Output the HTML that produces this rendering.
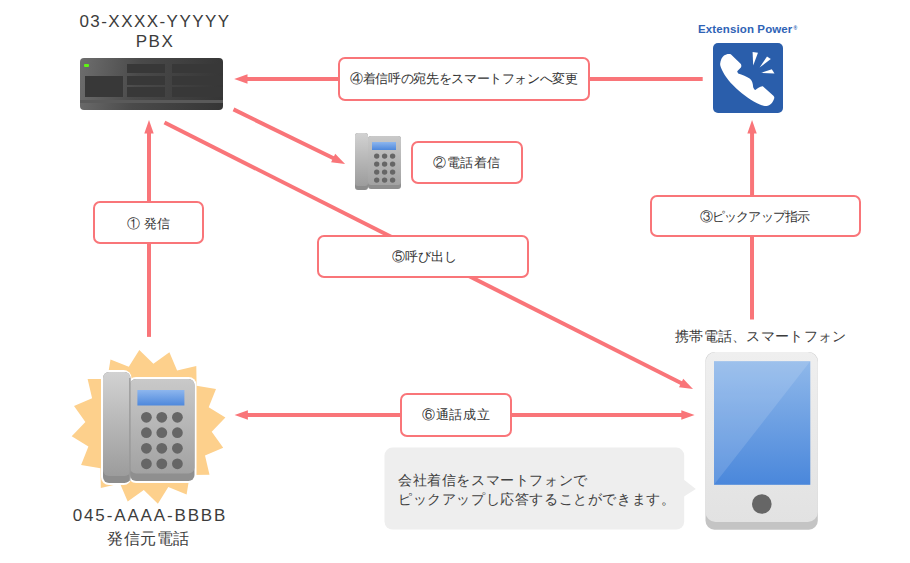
<!DOCTYPE html>
<html><head><meta charset="utf-8">
<style>
html,body{margin:0;padding:0;background:#fff;}
body{width:910px;height:563px;position:relative;overflow:hidden;font-family:"Liberation Sans",sans-serif;color:#333;}
.a{position:absolute;}
.box{position:absolute;box-sizing:border-box;border:2px solid #f97579;border-radius:7px;background:#fff;display:flex;align-items:center;justify-content:center;font-size:13px;color:#333;white-space:nowrap;padding-top:2px;}
.t{position:absolute;white-space:nowrap;line-height:20px;color:#333;-webkit-text-stroke:0.15px #333;}
body.cjk .t{-webkit-text-stroke:0;}
#t4{left:349px;top:69px;font-size:17.5px;letter-spacing:-0.44px;}
#t2{left:432px;top:153px;font-size:17.5px;letter-spacing:0.3px;}
#t1{left:125.5px;top:214px;font-size:17.5px;letter-spacing:0.2px;}
#t5{left:391px;top:246.5px;font-size:17.5px;letter-spacing:-0.83px;}
#t3{left:700px;top:206.5px;font-size:17.5px;letter-spacing:-1.1px;}
#t6{left:421px;top:405px;font-size:17.5px;letter-spacing:0.28px;}
#tm{left:674px;top:326px;font-size:18.5px;letter-spacing:0.51px;color:#3c3c3c;}
#tc{left:106px;top:529px;font-size:19px;letter-spacing:3.4px;color:#3c3c3c;-webkit-text-stroke:0.45px #3c3c3c;}
#tb{left:396.7px;top:471px;font-size:18px;letter-spacing:1.0px;line-height:18.5px;color:#404040;}
body.cjk #t4{left:350px;top:69px;font-size:13px;letter-spacing:-0.35px;}
body.cjk #t2{left:433px;top:153px;font-size:13px;letter-spacing:0.5px;}
body.cjk #t1{left:127px;top:214px;font-size:13px;letter-spacing:0;}
body.cjk #t5{left:391.5px;top:246.5px;font-size:13px;letter-spacing:0;}
body.cjk #t3{left:700px;top:206.5px;font-size:13px;letter-spacing:-0.9px;}
body.cjk #t6{left:422px;top:405px;font-size:13px;letter-spacing:0.7px;}
body.cjk #tm{left:675px;top:326px;font-size:14px;letter-spacing:0.3px;}
body.cjk #tc{left:107px;top:529px;font-size:16px;letter-spacing:0.5px;-webkit-text-stroke:0;}
body.cjk #tb{left:398px;top:471px;font-size:14px;letter-spacing:0.6px;line-height:19px;}
.lbl{position:absolute;text-align:center;white-space:nowrap;color:#3c3c3c;}
</style></head>
<body>
<svg class="a" style="left:0;top:0" width="910" height="563" viewBox="0 0 910 563">
  <defs>
    <linearGradient id="hs" x1="0" y1="0" x2="0" y2="1">
      <stop offset="0" stop-color="#d2d2d2"/><stop offset="1" stop-color="#9c9c9c"/>
    </linearGradient>
    <linearGradient id="bd" x1="0" y1="0" x2="0" y2="1">
      <stop offset="0" stop-color="#c9c9c9"/><stop offset="1" stop-color="#a2a2a2"/>
    </linearGradient>
    <linearGradient id="dp" x1="0" y1="0" x2="0" y2="1">
      <stop offset="0" stop-color="#8db6ee"/><stop offset="1" stop-color="#4e88dc"/>
    </linearGradient>
  </defs>
  <g stroke="#f97579" stroke-width="4" fill="#f97579">
    <line x1="149.00" y1="336.90" x2="149.00" y2="132.40"/>
    <polygon stroke="none" points="149.00,120.10 153.70,133.40 144.30,133.40"/>
    <line x1="702.70" y1="79.00" x2="246.50" y2="79.00"/>
    <polygon stroke="none" points="234.20,79.00 247.50,74.30 247.50,83.70"/>
    <line x1="752.00" y1="319.50" x2="752.05" y2="132.40"/>
    <polygon stroke="none" points="752.05,120.10 756.75,133.40 747.35,133.40"/>
    <line x1="233.50" y1="109.40" x2="334.05" y2="158.50"/>
    <polygon stroke="none" points="345.10,163.90 331.09,162.29 335.21,153.84"/>
    <line x1="164.50" y1="122.50" x2="682.02" y2="383.46"/>
    <polygon stroke="none" points="693.00,389.00 679.01,387.21 683.24,378.82"/>
    <line x1="512.00" y1="415.00" x2="682.30" y2="415.00"/>
    <polygon stroke="none" points="694.60,415.00 681.30,419.70 681.30,410.30"/>
    <line x1="400.00" y1="415.00" x2="246.90" y2="415.00"/>
    <polygon stroke="none" points="234.60,415.00 247.90,410.30 247.90,419.70"/>
  </g>
  <!-- sunburst -->
  <polygon fill="#fdd08c" points="225.4,417.6 211.7,431.7 223.2,447.8 205.0,455.5 209.5,474.7 189.8,475.0 186.6,494.4 168.3,487.1 157.9,503.8 143.8,490.0 127.7,501.5 120.0,483.4 100.8,487.9 100.5,468.2 81.1,465.0 88.4,446.6 71.7,436.2 85.4,422.1 74.0,406.1 92.1,398.3 87.6,379.1 107.3,378.9 110.5,359.5 128.8,366.8 139.3,350.0 153.4,363.8 169.4,352.3 177.1,370.5 196.3,366.0 196.6,385.7 216.0,388.9 208.7,407.2"/>
  <!-- big phone -->
  <g>
    <rect x="101" y="370" width="30.5" height="115" rx="8" fill="#fff"/>
    <rect x="128" y="377" width="68.5" height="106" rx="8" fill="#fff"/>
    <rect x="130" y="379" width="64.5" height="102" rx="6" fill="#8f8f8f"/>
    <rect x="130" y="379" width="64.5" height="94.5" rx="6" fill="url(#bd)"/>
    <rect x="103" y="372" width="27.5" height="111" rx="6" fill="#8d8d8d"/>
    <rect x="103" y="372" width="27.5" height="104" rx="6" fill="url(#hs)"/>
    <rect x="129.2" y="378" width="1.2" height="103" fill="#9a9a9a"/>
    <rect x="137.4" y="390" width="47" height="15.5" fill="url(#dp)"/>
    <g fill="#666">
      <circle cx="146.4" cy="417.3" r="5.4"/><circle cx="161.8" cy="417.3" r="5.4"/><circle cx="177.4" cy="417.3" r="5.4"/>
      <circle cx="146.4" cy="432.7" r="5.4"/><circle cx="161.8" cy="432.7" r="5.4"/><circle cx="177.4" cy="432.7" r="5.4"/>
      <circle cx="146.4" cy="448.3" r="5.4"/><circle cx="161.8" cy="448.3" r="5.4"/><circle cx="177.4" cy="448.3" r="5.4"/>
      <circle cx="146.4" cy="463.8" r="5.4"/><circle cx="161.8" cy="463.8" r="5.4"/><circle cx="177.4" cy="463.8" r="5.4"/>
    </g>
  </g>
  <!-- small phone -->
  <g>
    <rect x="368" y="136" width="33" height="53" rx="3" fill="#8e8e8e"/>
    <rect x="368" y="136" width="33" height="49" rx="3" fill="url(#bd)"/>
    <rect x="355" y="133" width="13" height="57" rx="3" fill="#8c8c8c"/>
    <rect x="355" y="133" width="13" height="53" rx="3" fill="url(#hs)"/>
    <rect x="372" y="142" width="24" height="8" fill="url(#dp)"/>
    <g fill="#666">
      <circle cx="376.7" cy="156.1" r="2.7"/><circle cx="384.6" cy="156.1" r="2.7"/><circle cx="392.6" cy="156.1" r="2.7"/>
      <circle cx="376.7" cy="164.1" r="2.7"/><circle cx="384.6" cy="164.1" r="2.7"/><circle cx="392.6" cy="164.1" r="2.7"/>
      <circle cx="376.7" cy="172.1" r="2.7"/><circle cx="384.6" cy="172.1" r="2.7"/><circle cx="392.6" cy="172.1" r="2.7"/>
      <circle cx="376.7" cy="180.1" r="2.7"/><circle cx="384.6" cy="180.1" r="2.7"/><circle cx="392.6" cy="180.1" r="2.7"/>
    </g>
  </g>
  <!-- Extension Power icon -->
  <g transform="translate(713,43)">
    <rect width="70" height="70" rx="5" fill="#2a5eab"/>
    <path fill="#fff" d="M7.1 20.9 C7.5 17 9 14 11 12.5 C13 11 16 10.5 17.8 11.3 L27.9 20.9 C28.5 22 28.5 23.8 27.9 24.6 L24.2 28.3 C24.5 29.5 24.8 30 25.2 30.4 C29 31.5 34 33.5 37 35.8 C39 37.5 39.8 40 40.2 44.3 C40.8 45.8 41.5 46.8 42.3 47 C43.5 46 44.5 45.2 45.5 44.8 C47 43.8 48.5 43 49.8 43.2 L60.4 52.8 C61.5 54 61.5 55 61 56 C60 58.5 59 60.5 57.2 61.4 C55.5 62.5 53.5 63.2 51.9 63 C41 61.5 17 43 10.3 29.5 C8.5 26 7.1 23 7.1 20.9 Z"/>
    <path fill="#fff" d="M39.6 9.1 L45 9.7 L40.2 22.5 Z"/>
    <path fill="#fff" d="M54 13.4 L57.8 16.1 L46.6 24.6 Z"/>
    <path fill="#fff" d="M58.8 26.2 L61.5 30.4 L48.2 29.9 Z"/>
  </g>
</svg>

<!-- PBX label -->
<div class="lbl" style="left:60px;top:12px;width:190px;font-size:17px;letter-spacing:1.45px;line-height:20px;">03-XXXX-YYYYY<br>PBX</div>

<!-- PBX device -->
<div class="a" style="left:80px;top:58px;width:143px;height:52px;border-radius:4px;background:linear-gradient(100deg,#6e6e6e 0%,#4a4a4a 40%,#353535 100%);overflow:hidden;">
  <div class="a" style="left:4.3px;top:6px;width:5.2px;height:3px;background:#5ef512;border-radius:1px;"></div>
  <div class="a" style="left:5px;top:18px;width:38px;height:21px;background:#383838;"></div>
  <div class="a" style="left:47px;top:6px;width:38px;height:9px;background:#383838;"></div>
  <div class="a" style="left:47px;top:18px;width:38px;height:9px;background:#383838;"></div>
  <div class="a" style="left:47px;top:29px;width:38px;height:10px;background:#383838;"></div>
  <div class="a" style="left:92px;top:6px;width:51px;height:9px;background:#383838;"></div>
  <div class="a" style="left:92px;top:18px;width:51px;height:9px;background:#383838;"></div>
  <div class="a" style="left:92px;top:29px;width:51px;height:10px;background:#383838;"></div>
  <div class="a" style="left:0;top:42px;width:143px;height:3px;background:#5a5a5a;"></div>
</div>

<!-- Boxes -->
<div class="box" style="left:337.5px;top:57.3px;width:252.5px;height:43.3px;"></div><div class="t" id="t4">④着信呼の宛先をスマートフォンへ変更</div>
<div class="box" style="left:411.3px;top:141.3px;width:111.8px;height:43px;"></div><div class="t" id="t2">②電話着信</div>
<div class="box" style="left:93.3px;top:200.9px;width:111.2px;height:43.6px;"></div><div class="t" id="t1">① 発信</div>
<div class="box" style="left:317.3px;top:235.4px;width:211.6px;height:42.6px;"></div><div class="t" id="t5">⑤呼び出し</div>
<div class="box" style="left:649.6px;top:194.6px;width:211px;height:42.7px;"></div><div class="t" id="t3">③ピックアップ指示</div>
<div class="box" style="left:400.2px;top:393.2px;width:111.8px;height:43.6px;"></div><div class="t" id="t6">⑥通話成立</div>

<!-- Extension Power -->
<div class="a" style="left:698px;top:21.5px;font-size:11.5px;line-height:14px;letter-spacing:0.12px;font-weight:bold;color:#2f63b6;white-space:nowrap;">Extension Power<span style="font-size:5px;position:relative;top:-3px;margin-left:1px;letter-spacing:0;">®</span></div>

<!-- Text labels -->
<div class="t" id="tm">携帯電話、スマートフォン</div>
<div class="lbl" style="left:50px;top:505px;width:200px;font-size:17px;letter-spacing:1.85px;line-height:22px;">045-AAAA-BBBB</div>
<div class="t" id="tc">発信元電話</div>

<!-- Speech bubble -->
<svg class="a" style="left:380px;top:440px" width="320" height="95" viewBox="380 440 320 95">
  <rect x="384.5" y="447.6" width="299.7" height="81.9" rx="8" fill="#eeeeee"/>
  <polygon points="684,479.7 695.8,489 684,496.6" fill="#eeeeee"/>
</svg>
<div class="t" id="tb">会社着信をスマートフォンで<br>ピックアップし応答することができます。</div>

<!-- Smartphone -->
<svg class="a" style="left:700px;top:345px" width="125" height="190" viewBox="700 345 125 190">
  <defs>
    <linearGradient id="sb" x1="0" y1="0" x2="0" y2="1"><stop offset="0" stop-color="#efefef"/><stop offset="1" stop-color="#e2e2e2"/></linearGradient>
    <linearGradient id="sc" x1="0" y1="0" x2="0" y2="1"><stop offset="0" stop-color="#8fb8ea"/><stop offset="1" stop-color="#4a87db"/></linearGradient>
  </defs>
  <rect x="705.5" y="352" width="112.3" height="177.7" rx="9" fill="#c4c4c4"/>
  <rect x="705.5" y="352" width="112.3" height="170" rx="10" fill="url(#sb)"/>
  <rect x="714" y="361.2" width="96.3" height="123.6" fill="url(#sc)"/>
  <polygon points="714,361.2 810.3,361.2 714,484.8" fill="#fff" opacity="0.13"/>
  <circle cx="761.8" cy="504" r="9.8" fill="#666"/>
</svg>
<script>
(function(){
  var d=document.createElement('span');
  d.style.cssText='position:absolute;left:-9999px;top:0;font-size:100px;white-space:nowrap;font-family:"Liberation Sans",sans-serif;';
  d.textContent='\u6c34\u6c34\u6c34\u6c34\u6c34\u6c34\u6c34\u6c34\u6c34\u6c34';
  document.body.appendChild(d);
  var w=d.getBoundingClientRect().width;
  document.body.removeChild(d);
  if(w>900){document.body.className+=' cjk';}
})();
</script>
</body></html>
